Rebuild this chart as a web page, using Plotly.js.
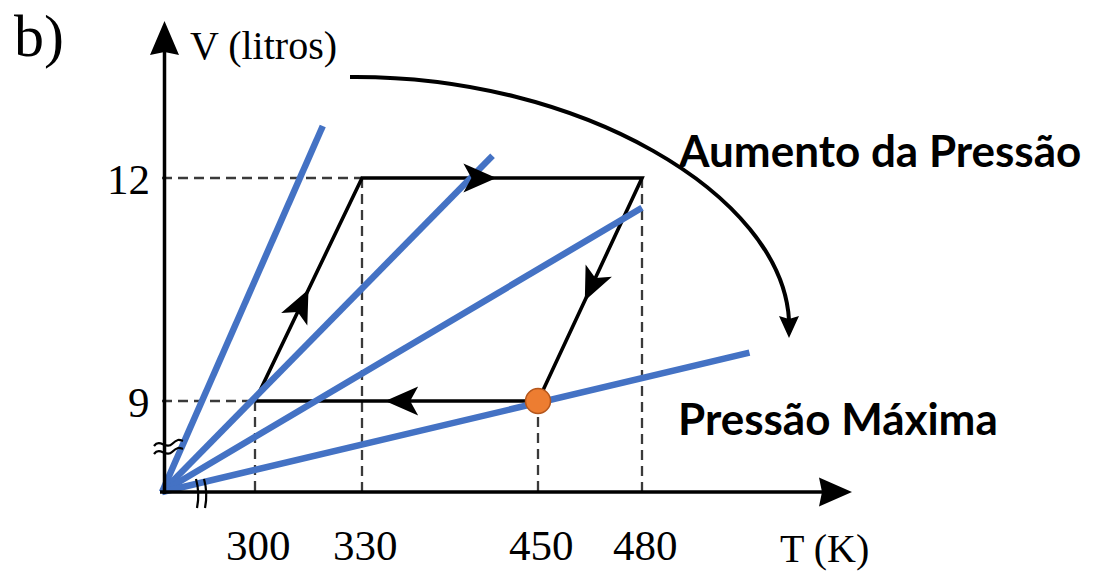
<!DOCTYPE html>
<html><head><meta charset="utf-8">
<script src="https://cdn.plot.ly/plotly-3.0.1.min.js"></script>
<style>html,body{margin:0;padding:0;background:#fff}#chart{width:1096px;height:572px}</style>
</head><body><div id="chart"></div>
<script>
// ---------- data ----------
const tTicks = [300, 330, 450, 480];          // T (K) tick labels
const vTicks = [9, 12];                        // V (litros) tick labels
const cycleT = [300, 330, 480, 450, 300];      // cycle states A->B->C->D->A
const cycleV = [9, 12, 12, 9, 9];
const isoEndT = [319, 419, 480, 511];          // isochores (start at origin), end points
const isoEndV = [12.7, 12.3, 11.6, 9.65];
const maxPT = [450];                           // state of maximum pressure
const maxPV = [9];

// ---------- schematic (not to scale) axis mapping ----------
const tKnots = [0, 300, 330, 450, 480], xKnots = [162, 255, 362, 538, 642];
const vKnots = [0, 9, 12],              yKnots = [492, 401, 178];
function interp(v, ks, ps) {
  let i = 0;
  while (i < ks.length - 2 && v > ks[i + 1]) i++;
  return ps[i] + (v - ks[i]) * (ps[i + 1] - ps[i]) / (ks[i + 1] - ks[i]);
}
const sx = t => interp(t, tKnots, xKnots);
const sy = v => interp(v, vKnots, yKnots);

const BLUE = '#4472C4', SERIF = 'Liberation Serif, Times New Roman, serif', SANS = 'Lato, Calibri, sans-serif';
const traces = [];

// dashed guides
const gx = [], gy = [];
const seen = new Set();
for (let i = 0; i < cycleT.length; i++) {
  const k = cycleT[i] + '_' + cycleV[i];
  if (seen.has(k)) continue; seen.add(k);
  gx.push(sx(cycleT[i]), sx(cycleT[i]), null); gy.push(sy(cycleV[i]), sy(0), null);
}
vTicks.forEach(v => {
  const tmin = Math.min(...cycleT.filter((t, i) => cycleV[i] === v));
  gx.push(sx(0), sx(tmin), null); gy.push(sy(v), sy(v), null);
});
traces.push({x: gx, y: gy, mode: 'lines', line: {color: '#3a3a3a', width: 2.3, dash: '10px,6px'}, hoverinfo: 'skip'});

// cycle
traces.push({x: cycleT.map(sx), y: cycleV.map(sy), mode: 'lines', line: {color: '#000', width: 3.6}, hoverinfo: 'skip'});

// isochores
isoEndT.forEach((t, i) => {
  traces.push({x: [sx(0), sx(t)], y: [sy(0), sy(isoEndV[i])], mode: 'lines',
    line: {color: BLUE, width: 6.5}, hoverinfo: 'skip'});
});

// maximum pressure point
traces.push({x: maxPT.map(sx), y: maxPV.map(sy), mode: 'markers',
  marker: {size: 25, color: '#ED7D31', line: {color: '#B4561C', width: 1.5}}, hoverinfo: 'skip'});

// ---------- shapes ----------
const shapes = [];
function head(tx, ty, dx, dy, L, W, notch) {
  const n = Math.hypot(dx, dy), ux = dx / n, uy = dy / n, px = -uy, py = ux;
  const bx = tx - ux * L, by = ty - uy * L;
  const nx = tx - ux * (L - notch), ny = ty - uy * (L - notch);
  return `M ${tx} ${ty} L ${bx + px * W} ${by + py * W} L ${nx} ${ny} L ${bx - px * W} ${by - py * W} Z`;
}
const frac = [0.5, 0.48, 0.55, 0.54];
for (let i = 0; i < cycleT.length - 1; i++) {
  const x0 = sx(cycleT[i]), y0 = sy(cycleV[i]), x1 = sx(cycleT[i + 1]), y1 = sy(cycleV[i + 1]);
  const tx = x0 + frac[i] * (x1 - x0), ty = y0 + frac[i] * (y1 - y0);
  shapes.push({type: 'path', xref: 'x', yref: 'y', path: head(tx, ty, x1 - x0, y1 - y0, 33, 14.5, 8),
    fillcolor: '#000', line: {width: 0}});
}
// axes with arrows
shapes.push({type: 'line', xref: 'x', yref: 'y', x0: 160, y0: 492, x1: 830, y1: 492, line: {color: '#000', width: 3.5}});
shapes.push({type: 'path', xref: 'x', yref: 'y', path: head(852, 492, 1, 0, 33, 14.5, 3), fillcolor: '#000', line: {width: 0}});
shapes.push({type: 'line', xref: 'x', yref: 'y', x0: 164.5, y0: 494, x1: 164.5, y1: 45, line: {color: '#000', width: 3.5}});
shapes.push({type: 'path', xref: 'x', yref: 'y', path: head(164.5, 21, 0, -1, 34, 14.5, 3), fillcolor: '#000', line: {width: 0}});
// axis breaks
shapes.push({type: 'path', xref: 'x', yref: 'y', path: 'M 154 446 C 160 438, 166 450, 172 444 S 180 440, 183 441', line: {color: '#000', width: 2.2}});
shapes.push({type: 'path', xref: 'x', yref: 'y', path: 'M 154 454 C 160 446, 166 458, 172 452 S 180 448, 183 449', line: {color: '#000', width: 2.2}});
shapes.push({type: 'path', xref: 'x', yref: 'y', path: 'M 196 479 Q 200 493 197 508', line: {color: '#000', width: 2.2}});
shapes.push({type: 'path', xref: 'x', yref: 'y', path: 'M 204 479 Q 208 493 205 508', line: {color: '#000', width: 2.2}});
// curved arrow (pressure increase)
shapes.push({type: 'path', xref: 'x', yref: 'y', path: 'M 350 77 C 580 75, 782 195, 789 320', line: {color: '#000', width: 4}});
shapes.push({type: 'path', xref: 'x', yref: 'y', path: head(789, 338, 0, 1, 22, 10, 3), fillcolor: '#000', line: {width: 0}});

// ---------- text ----------
const ann = [];
const txt = (x, y, text, size, family, xa, extra) => Object.assign({x, y, xref: 'x', yref: 'y', text, showarrow: false,
  xanchor: xa, yanchor: 'middle', font: {size, family, color: '#000'}}, extra || {});
ann.push(txt(12, 36, 'b)', 60, SERIF, 'left'));
ann.push(txt(188, 45, 'V (litros)', 40, SERIF, 'left'));
ann.push(txt(778, 548, 'T (K)', 40, SERIF, 'left'));
ann.push(txt(676, 150, '<b>Aumento da Pressão</b>', 44, SANS, 'left'));
ann.push(txt(676, 418, '<b>Pressão Máxima</b>', 44, SANS, 'left'));
tTicks.forEach(t => ann.push(txt(sx(t) + 3, 545, String(t), 43, SERIF, 'center')));
vTicks.forEach(v => ann.push(txt(152, sy(v) + 1, String(v), 43, SERIF, 'right')));

Plotly.newPlot('chart', traces, {
  width: 1096, height: 572, margin: {l: 0, r: 0, t: 0, b: 0},
  paper_bgcolor: '#fff', plot_bgcolor: '#fff', showlegend: false,
  xaxis: {range: [0, 1096], visible: false, fixedrange: true},
  yaxis: {range: [572, 0], visible: false, fixedrange: true},
  shapes, annotations: ann
}, {staticPlot: true});
</script></body></html>
